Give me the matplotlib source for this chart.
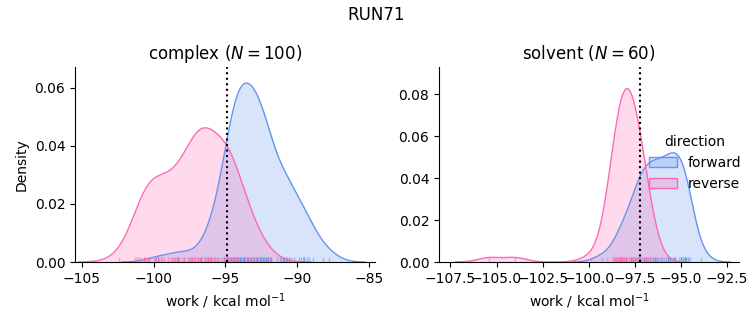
import numpy as np
import matplotlib
matplotlib.use("Agg")
import matplotlib.pyplot as plt
from matplotlib.patches import Patch
from matplotlib.ticker import MultipleLocator, FormatStrFormatter
from matplotlib.transforms import blended_transform_factory

# ---- data: work values (kcal/mol) ----
complex_forward = [
    -99.7, -98.3, -97.9, -96.4, -96.2, -96.0, -95.8, -95.6,
    -95.2, -95.1, -95.0, -94.9, -94.9, -94.8, -94.8, -94.7, -94.6, -94.6, -94.5, -94.5, -94.4, -94.3, -94.2,
    -94.5, -94.3, -94.2,
    -94.2, -94.1, -94.1, -94.0,
    -94.0, -93.9, -93.7,
    -94.1, -94.0, -93.9, -93.8, -93.8, -93.7, -93.7, -93.6, -93.5, -93.5, -93.4, -93.4, -93.3, -93.2, -93.1,
    -93.4, -93.2, -93.0, -92.8, -92.6,
    -93.0, -92.9, -92.8, -92.8, -92.7, -92.6, -92.6, -92.5, -92.5, -92.4, -92.4, -92.4, -92.3, -92.3,
    -92.2, -92.2, -92.1, -92.0, -92.0, -91.9, -91.8,
    -92.2, -91.8, -91.4, -91.0,
    -91.2, -91.1, -91.0, -90.9, -90.9, -90.8, -90.7, -90.6,
    -90.8, -90.6, -90.4, -90.2, -89.9, -89.7, -89.5,
    -89.6, -89.5, -89.3, -89.2,
    -88.9, -88.2, -87.8,
]
complex_reverse = [
    -102.4,
    -101.3, -101.2, -101.1, -101.0, -100.9, -100.7, -100.6, -100.5, -100.4, -100.3,
    -100.7, -100.3, -100.0, -99.9, -99.9, -99.8, -99.8, -99.7, -99.6,
    -99.5, -99.4, -99.3, -99.0, -98.8, -98.6,
    -98.7, -98.6, -98.5, -98.4, -98.3,
    -98.4, -98.3, -98.2, -98.0, -97.9, -97.5, -97.4,
    -97.6, -97.5, -97.4, -97.3, -97.2, -97.1,
    -97.3, -97.2, -97.0, -96.9, -96.8, -96.7,
    -96.9, -96.8, -96.8, -96.7, -96.6, -96.4, -96.3, -96.2, -96.2, -96.1,
    -96.4, -96.4, -96.2, -96.2, -96.1, -96.0, -95.9, -95.8, -95.7, -95.6,
    -95.5, -95.4, -95.0, -94.9,
    -95.1, -95.0, -94.9, -94.8, -94.7, -94.6, -94.5,
    -95.0, -94.9, -94.8, -94.7, -94.6, -94.5, -94.4, -94.3, -94.2,
    -94.5, -94.1, -93.4,
    -93.5, -93.4, -93.3, -93.1, -93.0, -92.9,
    -91.9,
]
solvent_forward = [
    -99.3, -98.4, -98.3, -98.2, -98.2, -97.8, -97.7, -97.6, -97.5, -97.3,
    -97.4, -97.3, -97.2, -97.2, -97.1, -97.0, -97.0, -96.9, -96.9, -96.8,
    -96.7, -96.6, -96.5, -96.5, -96.4, -96.4, -96.4, -96.3, -96.3, -96.2,
    -96.1, -96.0, -95.9, -95.8, -95.7, -95.7, -95.6, -95.6,
    -95.7, -95.6, -95.5, -95.4, -95.3,
    -95.4, -95.3, -95.0,
    -95.1, -95.0, -95.0, -94.9, -94.9, -94.8, -94.8, -94.8, -94.7, -94.7, -94.6, -94.6, -94.5,
    -93.9,
]
solvent_reverse = [
    -105.4, -104.0, -99.9, -99.0,
    -98.7, -98.7, -98.6, -98.6, -98.5, -98.5, -98.4, -98.4, -98.3, -98.3,
    -98.3, -98.3, -98.2, -98.3, -98.2, -98.2, -98.1, -98.1, -98.0, -98.0,
    -98.2, -98.2, -98.1, -98.0, -98.0, -98.5, -97.9, -97.3, -97.7, -97.7,
    -98.6, -98.3, -97.3, -97.7, -97.7, -97.6, -97.7, -97.6, -97.6, -97.6,
    -97.5, -97.5, -97.4, -97.4, -97.3, -97.3, -97.2,
    -97.5, -97.3, -97.0,
    -97.0, -96.9, -96.9, -96.9, -96.8, -96.7,
]
directions = ["forward", "reverse"]
phases = ["complex", "solvent"]
phase_N = [100, 60]
estimate = [-94.91, -97.23]   # dotted reference lines
run_name = "RUN71"

colors = {"forward": "cornflowerblue", "reverse": "hotpink"}
data = {
    ("complex", "forward"): complex_forward,
    ("complex", "reverse"): complex_reverse,
    ("solvent", "forward"): solvent_forward,
    ("solvent", "reverse"): solvent_reverse,
}
n_total = sum(len(v) for v in data.values())


def kde(samples, weight, cut=3, gridsize=200):
    s = np.asarray(samples, float)
    n = len(s)
    bw = s.std(ddof=1) * n ** (-1 / 5)
    xs = np.linspace(s.min() - cut * bw, s.max() + cut * bw, gridsize)
    z = (xs[:, None] - s[None, :]) / bw
    dens = np.exp(-0.5 * z * z).sum(1) / (n * bw * np.sqrt(2 * np.pi))
    return xs, dens * weight


fig = plt.figure(figsize=(7.53, 3.25), dpi=100)
W, H = 753, 325
axes = [
    fig.add_axes([75 / W, 63 / H, 300 / W, 195 / H]),
    fig.add_axes([439 / W, 63 / H, 300 / W, 195 / H]),
]
xlims = [(-105.47, -84.58), (-108.12, -91.85)]
ylims = [(0, 0.0671), (0, 0.093)]

for ax, phase, N, est, xl, yl in zip(axes, phases, phase_N, estimate, xlims, ylims):
    for d in directions:
        vals = data[(phase, d)]
        xs, ys = kde(vals, len(vals) / n_total)
        ax.fill_between(xs, ys, color=colors[d], alpha=0.25, lw=0)
        ax.plot(xs, ys, color=colors[d], lw=1)
        trans = blended_transform_factory(ax.transData, ax.transAxes)
        ax.vlines(vals, 0, 0.025, transform=trans, colors=colors[d], alpha=0.5, lw=1)
    ax.axvline(est, color="black", ls=":", lw=1.5)
    ax.set_xlim(*xl)
    ax.set_ylim(*yl)
    ax.yaxis.set_major_locator(MultipleLocator(0.02))
    ax.yaxis.set_major_formatter(FormatStrFormatter("%.2f"))
    ax.set_title(f"{phase} ($N={N}$)")
    ax.set_xlabel("work / kcal mol$^{-1}$")
    ax.spines["top"].set_visible(False)
    ax.spines["right"].set_visible(False)

axes[0].set_ylabel("Density")

handles = [Patch(facecolor=matplotlib.colors.to_rgba(colors[d], 0.25),
                 edgecolor=colors[d], lw=1, label=d) for d in directions]
axes[1].legend(handles=handles, title="direction", frameon=False,
               loc="upper left", bbox_to_anchor=(0.658, 0.716))

fig.suptitle(run_name, fontsize=12, y=0.98)
fig.savefig("out.png", dpi=100)
